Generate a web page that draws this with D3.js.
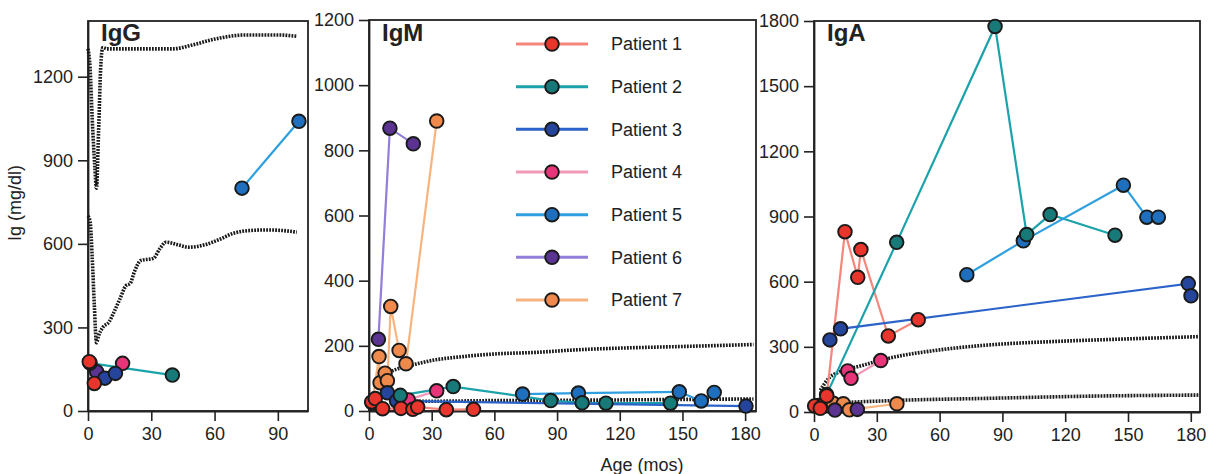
<!DOCTYPE html>
<html>
<head>
<meta charset="utf-8">
<script src="https://cdn.jsdelivr.net/npm/d3@7/dist/d3.min.js"></script>
<style>
	body { margin: 0; background: #fff; }
	svg text { font-family: "Liberation Sans", Arial, sans-serif; fill: #222; }
</style>
</head>
<body>
<div id="graph"></div>
<script>

// patients, in legend order
const patients = ['Patient 1', 'Patient 2', 'Patient 3', 'Patient 4', 'Patient 5', 'Patient 6', 'Patient 7']
const markerColors = ['#e8362c', '#177a78', '#25459d', '#e8357a', '#1e70bf', '#5b3492', '#ef8a4c']
const lineColors = ['#f4867c', '#1ba2aa', '#2b63c9', '#f397b8', '#2f9fe0', '#927ed8', '#f8b47f']

// [age (mos), Ig (mg/dl)] per patient
const iggSeries = [
	[[0.6, 177], [3, 99]],
	[[1, 172], [40, 129]],
	[[8, 118], [13, 135]],
	[[16.4, 171]],
	[[73, 800], [100, 1040]],
	[[4.1, 141]],
	[]
]
const igmSeries = [
	[[1.3, 28], [3, 38], [6.5, 7], [15.3, 8], [21, 5], [23.3, 12], [37, 4], [50, 5]],
	[[15, 48], [40.3, 75], [87, 32], [102, 25], [113.4, 24], [144.3, 24]],
	[[8.8, 56], [13.2, 31], [180.4, 15]],
	[[18.8, 34], [32.4, 62]],
	[[73.5, 52], [100.2, 55], [148.5, 59], [159, 31], [165.2, 57]],
	[[4.5, 220], [10, 868], [21.2, 820]],
	[[1.5, 25], [4.8, 167], [5.3, 87], [7.7, 116], [8.8, 93], [10.4, 321], [14.4, 186], [17.7, 145], [32.4, 890]]
]
const igaSeries = [
	[[0.3, 28], [3, 17], [6.1, 74], [14.8, 830], [20.9, 620], [22.4, 748], [35.5, 350], [49.8, 425]],
	[[6, 80], [39.5, 781], [86.5, 1775], [101.6, 817], [112.8, 909], [143.8, 814]],
	[[7.6, 332], [12.7, 383], [178.8, 591], [180.1, 535]],
	[[16.1, 189], [17.7, 155], [31.9, 237]],
	[[73, 632], [100, 788], [147.8, 1044], [159, 897], [164.5, 897]],
	[[10, 9], [20.7, 12]],
	[[2, 30], [9.2, 40], [14, 38], [16.9, 10], [39.6, 38]]
]

// normal range curves (dotted)
const iggHigh = [[0, 1300], [1, 1230], [2, 1050], [3.2, 880], [4, 800], [5, 1000], [6, 1230], [7, 1305], [9, 1300], [20, 1300], [40, 1300], [50, 1315], [60, 1335], [75, 1350], [90, 1350], [99, 1345]]
const iggLow = [[0, 700], [1, 680], [2, 550], [3, 380], [4, 245], [5, 270], [7, 300], [10, 320], [12, 350], [15, 400], [18, 450], [20, 458], [22, 500], [25, 540], [31, 548], [34, 582], [37, 606], [42, 598], [48, 588], [56, 598], [62, 615], [69, 638], [77, 648], [85, 650], [92, 648], [99, 642]]
const igmHigh = [[7, 96], [10, 118], [14, 130], [20, 140], [30, 155], [45, 167], [60, 175], [80, 180], [100, 188], [120, 193], [150, 198], [184, 204]]
const igmLow = [[14, 30], [30, 30], [60, 32], [100, 33], [140, 35], [184, 37]]
const igaHigh = [[3, 100], [7, 155], [12, 185], [21, 209], [36, 248], [60, 286], [84, 309], [116, 325], [148, 336], [184, 347]]
const igaLow = [[8, 35], [12, 40], [36, 52], [84, 63], [132, 73], [184, 78]]

// tick labels
const ageTicks = [0, 30, 60, 90, 120, 150, 180]
const iggAgeTicks = [0, 30, 60, 90]
const iggTicks = [0, 300, 600, 900, 1200]
const igmTicks = [0, 200, 400, 600, 800, 1000, 1200]
const igaTicks = [0, 300, 600, 900, 1200, 1500, 1800]

const width = 1209
	, height = 474

const svg = d3.select('#graph')
	.append('svg')
	.attr('width', width)
	.attr('height', height)

const panels = [
	{ name: 'IgG', left: 88, right: 308, top: 21, bottom: 411, xMax: 104.3, xTicks: iggAgeTicks, yMax: 1400, yTicks: iggTicks, series: iggSeries, norms: [iggHigh, iggLow] }
	, { name: 'IgM', left: 369, right: 756, top: 20, bottom: 411, xMax: 185.2, xTicks: ageTicks, yMax: 1200, yTicks: igmTicks, series: igmSeries, norms: [igmHigh, igmLow] }
	, { name: 'IgA', left: 814, right: 1200, top: 21, bottom: 412, xMax: 184.4, xTicks: ageTicks, yMax: 1800, yTicks: igaTicks, series: igaSeries, norms: [igaHigh, igaLow] }
]

panels.forEach(drawPanel)
drawLegend()

// axis titles
svg.append('text')
	.attr('transform', 'translate(21,203) rotate(-90)')
	.attr('text-anchor', 'middle')
	.style('font-size', '18px')
	.text('Ig (mg/dl)')

svg.append('text')
	.attr('x', 642)
	.attr('y', 471)
	.attr('text-anchor', 'middle')
	.style('font-size', '18px')
	.text('Age (mos)')

/**
 * draw one immunoglobulin panel
 */
function drawPanel(p) {

	const x = d3.scaleLinear().domain([0, p.xMax]).range([p.left, p.right])
		, y = d3.scaleLinear().domain([0, p.yMax]).range([p.bottom, p.top])
		, g = svg.append('g').attr('class', 'panel')
		, fmt = d3.format('d')

	g.append('rect')
		.attr('x', p.left)
		.attr('y', p.top)
		.attr('width', p.right - p.left)
		.attr('height', p.bottom - p.top)
		.attr('fill', 'none')
		.attr('stroke', '#222')
		.attr('stroke-width', 1.8)

	const xAxis = g.append('g')
		.attr('transform', 'translate(0,' + p.bottom + ')')
		.call(d3.axisBottom(x).tickValues(p.xTicks).tickFormat(fmt).tickSize(10).tickPadding(6).tickSizeOuter(0))

	const yAxis = g.append('g')
		.attr('transform', 'translate(' + p.left + ',0)')
		.call(d3.axisLeft(y).tickValues(p.yTicks).tickFormat(fmt).tickSize(10).tickPadding(5).tickSizeOuter(0))

	;[xAxis, yAxis].forEach(a => {
		a.select('.domain').attr('stroke', '#222').attr('stroke-width', 1.8)
		a.selectAll('.tick line').attr('stroke', '#222').attr('stroke-width', 1.6)
		a.selectAll('.tick text').style('font-size', '18px').attr('fill', '#222')
	})

	// panel title
	g.append('text')
		.attr('x', p.left + 13)
		.attr('y', 41)
		.style('font-size', '24px')
		.style('font-weight', 'bold')
		.text(p.name)

	// normal range, dotted
	const normLine = d3.line()
		.x(d => x(d[0]))
		.y(d => y(d[1]))
		.curve(d3.curveMonotoneX)

	g.selectAll('.norm')
		.data(p.norms)
		.join('path')
		.attr('class', 'norm')
		.attr('d', normLine)
		.attr('fill', 'none')
		.attr('stroke', '#1a1a1a')
		.attr('stroke-width', 3.6)
		.attr('stroke-dasharray', '1.8,1.2')

	// patient lines
	const line = d3.line()
		.x(d => x(d[0]))
		.y(d => y(d[1]))

	g.selectAll('.pline')
		.data(p.series)
		.join('path')
		.attr('class', 'pline')
		.attr('d', d => d.length > 1 ? line(d) : null)
		.attr('fill', 'none')
		.attr('stroke', (d, i) => lineColors[i])
		.attr('stroke-width', 2.2)

	// markers, patient 1 drawn last (on top)
	const order = d3.range(p.series.length).reverse()
	order.forEach(i => {
		g.append('g')
			.selectAll('circle')
			.data(p.series[i])
			.join('circle')
			.attr('cx', d => x(d[0]))
			.attr('cy', d => y(d[1]))
			.attr('r', 6.8)
			.attr('fill', markerColors[i])
			.attr('stroke', '#1a1a1a')
			.attr('stroke-width', 1.9)
	})
}

/**
 * legend inside IgM panel
 */
function drawLegend() {

	const row = d3.scaleLinear().domain([0, 6]).range([44, 300])
		, lg = svg.append('g').attr('class', 'legend')

	const item = lg.selectAll('g')
		.data(patients)
		.join('g')
		.attr('transform', (d, i) => 'translate(0,' + row(i) + ')')

	item.append('line')
		.attr('x1', 516)
		.attr('x2', 588)
		.attr('stroke', (d, i) => lineColors[i])
		.attr('stroke-width', 3)

	item.append('circle')
		.attr('cx', 552)
		.attr('r', 6.8)
		.attr('fill', (d, i) => markerColors[i])
		.attr('stroke', '#1a1a1a')
		.attr('stroke-width', 1.9)

	item.append('text')
		.attr('x', 611)
		.attr('dy', '0.35em')
		.style('font-size', '18px')
		.text(d => d)
}

</script>
</body>
</html>
